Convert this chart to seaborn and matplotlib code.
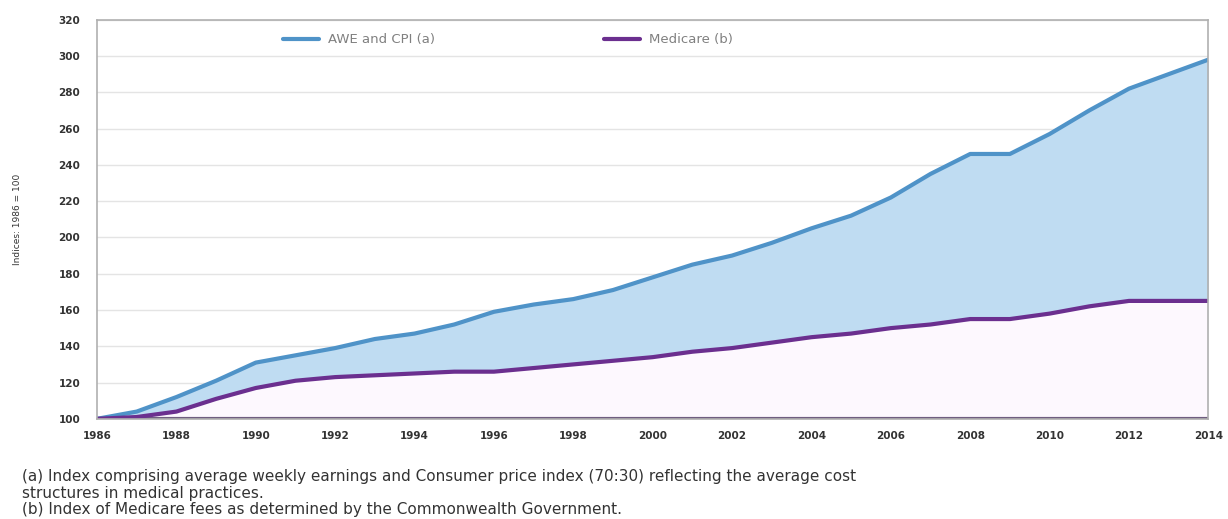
import numpy as np
import pandas as pd
import seaborn as sns
import matplotlib.pyplot as plt
from matplotlib.ticker import MultipleLocator

#data (index, 1986 = 100)
years = list(range(1986, 2015))
awe_cpi = [100, 104, 112, 121, 131, 135, 139, 144, 147, 152, 159, 163, 166, 171, 178,
           185, 190, 197, 205, 212, 222, 235, 246, 246, 257, 270, 282, 290, 298]
medicare = [100, 101, 104, 111, 117, 121, 123, 124, 125, 126, 126, 128, 130, 132, 134,
            137, 139, 142, 145, 147, 150, 152, 155, 155, 158, 162, 165, 165, 165]
series_names = ["AWE and CPI (a)", "Medicare (b)"]
footnotes = ["(a) Index comprising average weekly earnings and Consumer price index (70:30) reflecting the average cost",
             "structures in medical practices.",
             "(b) Index of Medicare fees as determined by the Commonwealth Government."]

df = pd.DataFrame({"year": years, series_names[0]: awe_cpi, series_names[1]: medicare})
long = df.melt(id_vars="year", var_name="series", value_name="index")

sns.set_style("white")
plt.rcParams["font.family"] = ["DejaVu Sans"]

fig = plt.figure(figsize=(12.28, 5.19), dpi=100)
ax = fig.add_axes([0.079, 0.193, 0.905, 0.769])

#shaded gap between the two indices
ax.fill_between(df["year"], df[series_names[1]], df[series_names[0]], color="#bfdcf2", lw=0)
ax.fill_between(df["year"], 100, df[series_names[1]], color="#fdf8fe", lw=0)

sns.lineplot(data=long, x="year", y="index", hue="series", ax=ax,
             palette=["#4f93c8", "#6b2f8f"], linewidth=3)

ax.axhline(100, color="#6f5d80", lw=3, zorder=1)

ax.set_xlim(1986, 2014)
ax.set_ylim(100, 320)
ax.xaxis.set_major_locator(MultipleLocator(2))
ax.xaxis.set_minor_locator(MultipleLocator(1))
ax.yaxis.set_major_locator(MultipleLocator(20))
ax.grid(axis="y", color="#e4e4e4", lw=1)
ax.set_axisbelow(True)
for s in ax.spines.values():
    s.set_color("#b0b0b0")
    s.set_linewidth(1.2)
ax.tick_params(axis="x", which="both", direction="inout", length=6, color="#555555",
               labelsize=7.5, pad=6)
ax.tick_params(axis="y", length=0, labelsize=7.5, pad=12)
for lab in ax.get_xticklabels() + ax.get_yticklabels():
    lab.set_fontweight("bold")
    lab.set_color("#333333")

ax.set_xlabel("")
ax.set_ylabel("Indices: 1986 = 100", fontsize=6.5, labelpad=26, color="#333333")

ax.legend(loc="center", bbox_to_anchor=(0.37, 0.95), ncol=2, frameon=False,
          fontsize=9.5, columnspacing=12.8, handlelength=2.7, handletextpad=0.7,
          labelcolor="#808080")

for i, line in enumerate(footnotes):
    fig.text(0.018, 0.082 - i * 0.032, line, fontsize=11, color="#333333",
             family="DejaVu Sans", va="center")

fig.savefig("out.png", dpi=100)
